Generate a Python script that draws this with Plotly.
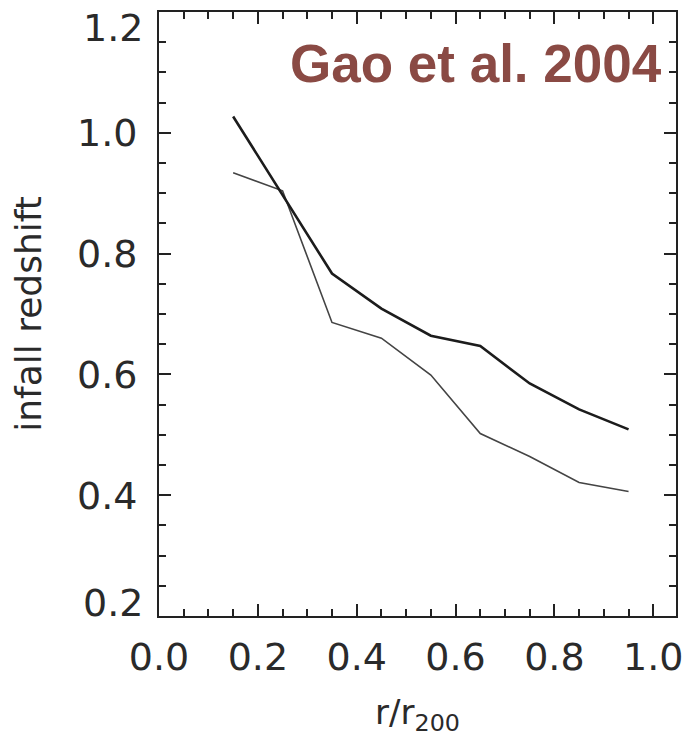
import plotly.graph_objects as go

# Radial bins (r / r200) and mean infall redshift per bin
r_bins = [0.15, 0.25, 0.35, 0.45, 0.55, 0.65, 0.75, 0.85, 0.95]
z_thick = [1.027, 0.897, 0.767, 0.709, 0.664, 0.647, 0.585, 0.542, 0.509]
z_thin = [0.934, 0.904, 0.686, 0.660, 0.599, 0.502, 0.464, 0.421, 0.406]

x_ticks = [0.0, 0.2, 0.4, 0.6, 0.8, 1.0]
x_labels = ["0.0", "0.2", "0.4", "0.6", "0.8", "1.0"]
y_ticks = [0.2, 0.4, 0.6, 0.8, 1.0, 1.2]
y_labels = ["0.2", "0.4", "0.6", "0.8", "1.0", "1.2"]

label_text = "Gao et al. 2004"

AXIS_COLOR = "#222222"
FONT_FAMILY = "DejaVu Sans"
TICK_FONT = dict(family=FONT_FAMILY, size=38, color="#2a2a2a")

fig = go.Figure()
fig.add_trace(go.Scatter(x=r_bins, y=z_thin, mode="lines",
                         line=dict(color="#444444", width=1.6), showlegend=False))
fig.add_trace(go.Scatter(x=r_bins, y=z_thick, mode="lines",
                         line=dict(color="#1c1c1c", width=2.6), showlegend=False))

axis_common = dict(
    showline=True, linecolor=AXIS_COLOR, linewidth=2, mirror="allticks",
    ticks="inside", ticklen=12, tickwidth=1.5, tickcolor=AXIS_COLOR,
    showgrid=False, zeroline=False, tickfont=TICK_FONT,
)
minor_ticks = dict(dtick=0.05, ticks="inside", ticklen=7, tickwidth=1.5, tickcolor=AXIS_COLOR)

fig.update_xaxes(
    range=[0, 1.046], tickvals=x_ticks, ticktext=x_labels,
    minor=minor_ticks,
    title=dict(text="r/r<sub>200</sub>", font=dict(family=FONT_FAMILY, size=34, color="#2a2a2a"),
               standoff=24),
    ticklabelstandoff=6,
    **axis_common,
)
# the end labels (0.2 and 1.2) sit slightly inside the frame, so they are placed separately
fig.update_yaxes(
    range=[0.2, 1.2], tickvals=y_ticks[1:-1], ticktext=y_labels[1:-1],
    minor=minor_ticks,
    title=dict(text="infall redshift", font=dict(family=FONT_FAMILY, size=36, color="#2a2a2a"),
               standoff=24),
    ticklabelstandoff=12,
    **axis_common,
)

annotations = [
    dict(text=label_text, xref="paper", yref="paper", x=1, y=0.914,
         xanchor="right", yanchor="middle", xshift=-12, showarrow=False,
         font=dict(family="Comic Sans MS, Liberation Sans", size=53, color="#8a4a44",
                   weight="bold")),
    dict(text=y_labels[-1], xref="paper", yref="y", x=0, y=y_ticks[-1],
         xanchor="right", yanchor="middle", xshift=-14, yshift=-16, showarrow=False,
         font=TICK_FONT),
    dict(text=y_labels[0], xref="paper", yref="y", x=0, y=y_ticks[0],
         xanchor="right", yanchor="middle", xshift=-14, yshift=13, showarrow=False,
         font=TICK_FONT),
]

fig.update_layout(
    width=687, height=737,
    margin=dict(l=159, r=11, t=12, b=121, autoexpand=False),
    paper_bgcolor="white", plot_bgcolor="white",
    annotations=annotations,
)

fig.write_html("out.html")
